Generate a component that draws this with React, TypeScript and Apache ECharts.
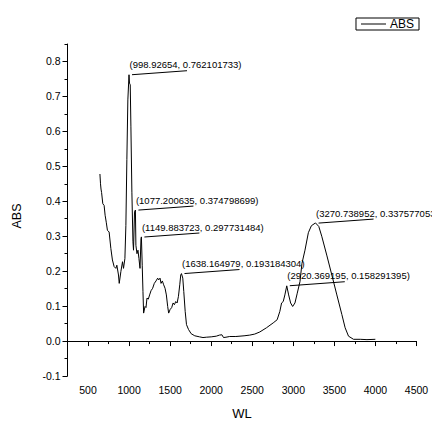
import React, { useEffect, useRef } from "react";
import * as echarts from "echarts";

const wl = [
  645, 652, 658, 665, 680, 696, 708, 722, 736, 757, 778, 797, 818, 839, 851, 871, 880, 900, 920, 932,
  949, 961, 973, 985, 999, 1005, 1014, 1022, 1034, 1047, 1054, 1066, 1077, 1083, 1096, 1108, 1120, 1133,
  1145, 1150, 1160, 1169, 1177, 1194, 1206, 1218, 1234, 1250, 1267, 1287, 1307, 1328, 1348, 1360, 1377,
  1389, 1405, 1421, 1438, 1454, 1470, 1482, 1499, 1519, 1536, 1552, 1568, 1585, 1601, 1617, 1629, 1638,
  1654, 1666, 1683, 1699, 1724, 1756, 1800, 1858, 1900, 1940, 2000, 2062, 2100, 2130, 2150, 2180, 2225,
  2300, 2400, 2469, 2530, 2592, 2673, 2755, 2803, 2836, 2857, 2877, 2897, 2920, 2943, 2967, 2992, 3020,
  3048, 3081, 3105, 3142, 3183, 3220, 3270, 3310, 3346, 3407, 3469, 3530, 3591, 3631, 3672, 3733, 3815,
  3897, 3999,
];
const abs = [
  0.478, 0.45, 0.435, 0.425, 0.393, 0.388, 0.36, 0.34, 0.317, 0.312, 0.265, 0.232, 0.213, 0.208, 0.217,
  0.189, 0.165, 0.199, 0.227, 0.208, 0.236, 0.331, 0.52, 0.69, 0.762, 0.738, 0.733, 0.615, 0.426, 0.284,
  0.26, 0.369, 0.375, 0.274, 0.25, 0.26, 0.236, 0.208, 0.293, 0.298, 0.217, 0.142, 0.08, 0.099, 0.096,
  0.123, 0.12, 0.132, 0.144, 0.151, 0.165, 0.172, 0.18, 0.175, 0.18, 0.165, 0.172, 0.161, 0.151, 0.132,
  0.099, 0.08, 0.09, 0.096, 0.109, 0.104, 0.113, 0.109, 0.128, 0.161, 0.189, 0.193, 0.18, 0.142, 0.085,
  0.047, 0.033, 0.021, 0.015, 0.012, 0.01, 0.011, 0.012, 0.014, 0.017, 0.018, 0.01, 0.011, 0.013, 0.013,
  0.015, 0.017, 0.02, 0.026, 0.038, 0.052, 0.061, 0.085, 0.109, 0.113, 0.132, 0.158, 0.132, 0.109, 0.099,
  0.109, 0.137, 0.17, 0.222, 0.26, 0.31, 0.33, 0.338, 0.328, 0.3, 0.246, 0.189, 0.132, 0.076, 0.038,
  0.014, 0.005, 0.005, 0.004, 0.005,
];

const annX = ["998.92654", "1077.200635", "1149.883723", "1638.164979", "2920.369195", "3270.738952"];
const annY = ["0.762101733", "0.374798699", "0.297731484", "0.193184304", "0.158291395", "0.337577053"];

const xMajor = [500, 1000, 1500, 2000, 2500, 3000, 3500, 4000, 4500];
const xMinor = [750, 1250, 1750, 2250, 2750, 3250, 3750, 4250];
const yMajor = [-0.1, 0, 0.1, 0.2, 0.3, 0.4, 0.5, 0.6, 0.7, 0.8];
const yMinor = [-0.05, 0.05, 0.15, 0.25, 0.35, 0.45, 0.55, 0.65, 0.75, 0.85];

const FONT = "'Liberation Sans', Arial, sans-serif";

export default function App() {
  const ref = useRef<HTMLDivElement>(null);
  useEffect(() => {
    if (!ref.current) return;
    const chart = echarts.init(ref.current, null, { renderer: "svg" });
    const line = wl.map((x, i) => [x, abs[i]]);
    const ann = annX.map((x, i) => [parseFloat(x), parseFloat(annY[i])]);
    chart.setOption({
      animation: false,
      backgroundColor: "#fff",
      textStyle: { fontFamily: FONT, color: "#000" },
      grid: { left: 67.5, right: 15.5, top: 44, bottom: 46, containLabel: false },
      legend: {
        data: [{ name: "ABS", icon: "rect" }],
        right: 13,
        top: 18,
        itemWidth: 25,
        itemHeight: 1,
        itemGap: 0,
        padding: [0, 5, 0, 5],
        borderColor: "#000",
        borderWidth: 1,
        borderRadius: 0,
        itemStyle: { color: "#000", borderWidth: 0 },
        textStyle: { fontSize: 12, color: "#000", fontFamily: FONT, lineHeight: 11, padding: [0, 0, 0, -1] },
      },
      xAxis: [
        {
          type: "value",
          min: 250,
          max: 4500,
          name: "WL",
          nameLocation: "middle",
          nameGap: 31,
          nameTextStyle: { fontSize: 13, color: "#000", fontFamily: FONT },
          axisLine: { show: true, lineStyle: { color: "#000", width: 1 } },
          axisTick: { show: true, customValues: xMajor, length: 5, lineStyle: { color: "#000" } },
          axisLabel: {
            customValues: xMajor,
            fontSize: 10.5,
            color: "#000",
            margin: 8,
            fontFamily: FONT,
            formatter: (v: number) => String(v),
          },
          splitLine: { show: false },
        },
        {
          type: "value",
          position: "bottom",
          min: 250,
          max: 4500,
          axisLine: { show: false },
          axisTick: { show: true, customValues: xMinor, length: 3, lineStyle: { color: "#000" } },
          axisLabel: { show: false },
          splitLine: { show: false },
        },
      ],
      yAxis: [
        {
          type: "value",
          min: -0.1,
          max: 0.85,
          name: "ABS",
          nameLocation: "middle",
          nameGap: 44,
          nameTextStyle: { fontSize: 12.5, color: "#000", fontFamily: FONT, padding: [0, 0, 0, -12] },
          axisLine: { show: true, lineStyle: { color: "#000", width: 1 } },
          axisTick: { show: true, customValues: yMajor, length: 5, lineStyle: { color: "#000" } },
          axisLabel: {
            customValues: yMajor,
            fontSize: 10.5,
            color: "#000",
            margin: 7,
            fontFamily: FONT,
            formatter: (v: number) => v.toFixed(1),
          },
          splitLine: { show: false },
        },
        {
          type: "value",
          position: "left",
          min: -0.1,
          max: 0.85,
          axisLine: { show: false },
          axisTick: { show: true, customValues: yMinor, length: 3, lineStyle: { color: "#000" } },
          axisLabel: { show: false },
          splitLine: { show: false },
        },
      ],
      series: [
        {
          name: "ABS",
          type: "line",
          data: line,
          symbol: "none",
          showSymbol: false,
          lineStyle: { color: "#000", width: 1 },
          itemStyle: { color: "#000" },
          xAxisIndex: 0,
          yAxisIndex: 0,
        },
        {
          name: "peaks",
          type: "custom",
          xAxisIndex: 0,
          yAxisIndex: 0,
          clip: false,
          silent: true,
          data: ann,
          encode: { x: 0, y: 1 },
          renderItem: (params: any, api: any) => {
            const p = api.coord([api.value(0), api.value(1)]);
            const i = params.dataIndex;
            return {
              type: "group",
              children: [
                {
                  type: "line",
                  shape: { x1: p[0] + 3, y1: p[1], x2: p[0] + 58, y2: p[1] - 4 },
                  style: { stroke: "#000", lineWidth: 1 },
                },
                {
                  type: "text",
                  x: p[0] + 0.5,
                  y: p[1] - 10,
                  style: {
                    text: `(${annX[i]}, ${annY[i]})`,
                    fontSize: 9.5,
                    fontFamily: FONT,
                    fill: "#000",
                    align: "left",
                    verticalAlign: "middle",
                  },
                },
              ],
            };
          },
        },
      ],
    });
    return () => chart.dispose();
  }, []);
  return <div ref={ref} style={{ width: 432, height: 425, position: "absolute", left: 0, top: 0 }} />;
}
